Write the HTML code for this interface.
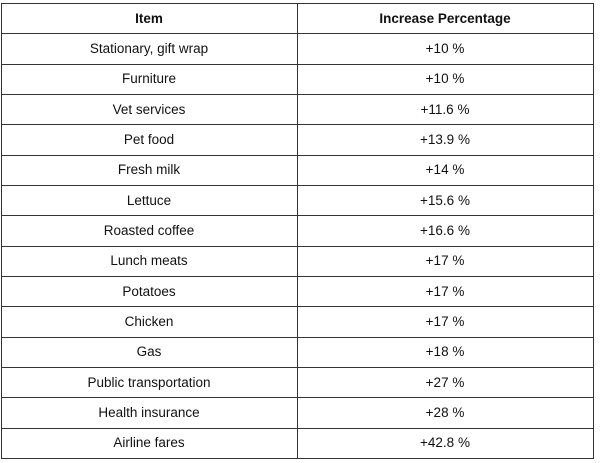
<!DOCTYPE html>
<html><head><meta charset="utf-8"><style>
body{margin:0;width:600px;height:463px;background:#fff;position:relative;font-family:"Liberation Sans",sans-serif;font-size:13.5px;color:#111}
.c{position:absolute;display:flex;align-items:center;justify-content:center;box-sizing:border-box}
.h{position:absolute;left:1px;width:593px;height:1px;background:#333}
.v{position:absolute;top:3px;height:456px;width:1px;background:#333}
</style></head><body>
<div id="t"></div>
<script>
const items=["Stationary, gift wrap","Furniture","Vet services","Pet food","Fresh milk","Lettuce","Roasted coffee","Lunch meats","Potatoes","Chicken","Gas","Public transportation","Health insurance","Airline fares"];
const pcts=["+10 %","+10 %","+11.6 %","+13.9 %","+14 %","+15.6 %","+16.6 %","+17 %","+17 %","+17 %","+18 %","+27 %","+28 %","+42.8 %"];
const t=document.getElementById('t');
const top0=3,rh=30.33,xs=[1,297,593];
function cell(txt,col,row,bold,name){
  const d=document.createElement('div');
  d.className='c';
  d.style.left=xs[col]+'px';d.style.width=(xs[col+1]-xs[col])+'px';
  d.style.top=(top0+row*rh)+'px';d.style.height=rh+'px';
  if(bold)d.style.fontWeight='bold';
  d.textContent=txt;
  
  
  t.appendChild(d);
}
cell('Item',0,0,true,'item-header');
cell('Increase Percentage',1,0,true,'increase-percentage-header');
items.forEach((it,i)=>{cell(it,0,i+1,false,'item-cell');cell(pcts[i],1,i+1,false,'percentage-cell');});
for(let r=0;r<=items.length+1;r++){
  const l=document.createElement('div');l.className='h';l.style.top=Math.round(top0+r*rh)+'px';
  
  
  t.appendChild(l);
}
xs.forEach(x=>{
  const l=document.createElement('div');l.className='v';l.style.left=x+'px';
  
  
  t.appendChild(l);
});
</script>
</body></html>
